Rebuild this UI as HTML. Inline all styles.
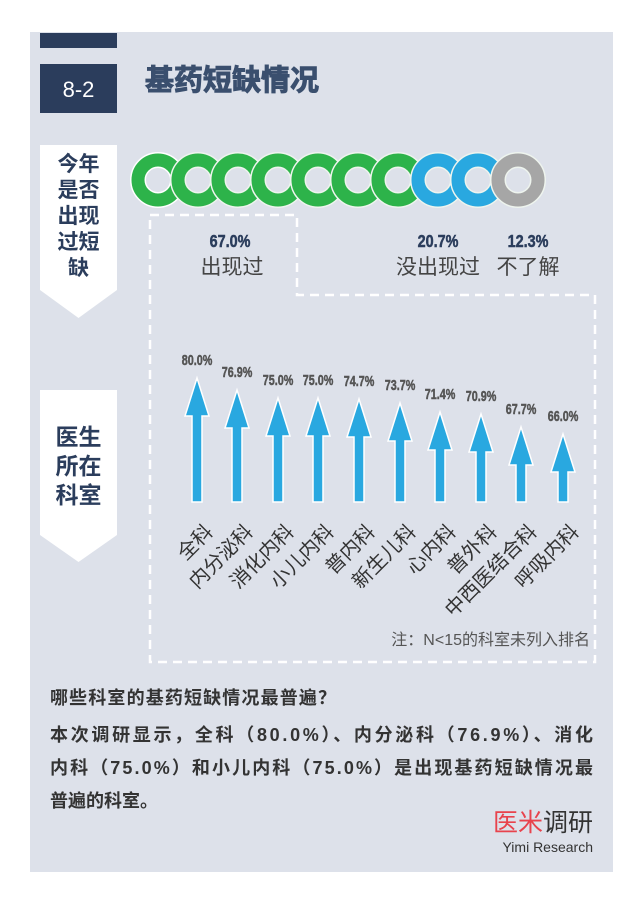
<!DOCTYPE html>
<html><head><meta charset="utf-8"><style>
body{margin:0;background:#fff;}
svg{display:block;}
text{font-family:"Liberation Sans","Noto Sans CJK SC",sans-serif;}
</style></head><body>
<svg width="640" height="905" viewBox="0 0 640 905" xmlns="http://www.w3.org/2000/svg">
<rect x="0" y="0" width="640" height="905" fill="#fff"/>
<rect x="30" y="32" width="583" height="840" fill="#dde1ea"/>
<rect x="40" y="33" width="77" height="15" fill="#2b3d5c"/>
<rect x="40" y="64" width="77" height="49" fill="#2b3d5c"/>
<text x="78.5" y="97" font-size="22" fill="#fff" text-anchor="middle">8-2</text>
<text x="145" y="90" font-size="29" font-weight="bold" fill="#3a4f6e" stroke="#3a4f6e" stroke-width="1">基药短缺情况</text>

<path d="M40 145 H117 V290 L78.5 318 L40 290 Z" fill="#fff"/>
<g font-size="21" font-weight="bold" fill="#2b3d5c" text-anchor="middle">
<text x="78.5" y="171">今年</text><text x="78.5" y="197">是否</text><text x="78.5" y="223">出现</text><text x="78.5" y="249">过短</text><text x="78.5" y="275">缺</text>
</g>
<path d="M40 390 H117 V535 L78.5 562 L40 535 Z" fill="#fff"/>
<g font-size="23" font-weight="bold" fill="#2b3d5c" text-anchor="middle">
<text x="78.5" y="445">医生</text><text x="78.5" y="474">所在</text><text x="78.5" y="503">科室</text>
</g>

<g fill="none">
<g stroke="#fff" stroke-width="16"><circle cx="158" cy="180" r="20"/></g><circle cx="158" cy="180" r="20" stroke="#2db34a" stroke-width="13"/>
<circle cx="198" cy="180" r="20" stroke="#eef4ee" stroke-width="16"/><circle cx="198" cy="180" r="20" stroke="#2db34a" stroke-width="13"/>
<circle cx="238" cy="180" r="20" stroke="#eef4ee" stroke-width="16"/><circle cx="238" cy="180" r="20" stroke="#2db34a" stroke-width="13"/>
<circle cx="278" cy="180" r="20" stroke="#eef4ee" stroke-width="16"/><circle cx="278" cy="180" r="20" stroke="#2db34a" stroke-width="13"/>
<circle cx="318" cy="180" r="20" stroke="#eef4ee" stroke-width="16"/><circle cx="318" cy="180" r="20" stroke="#2db34a" stroke-width="13"/>
<circle cx="358" cy="180" r="20" stroke="#eef4ee" stroke-width="16"/><circle cx="358" cy="180" r="20" stroke="#2db34a" stroke-width="13"/>
<circle cx="398" cy="180" r="20" stroke="#eef4ee" stroke-width="16"/><circle cx="398" cy="180" r="20" stroke="#2db34a" stroke-width="13"/>
<circle cx="438" cy="180" r="20" stroke="#eef4ee" stroke-width="16"/><circle cx="438" cy="180" r="20" stroke="#29a8e0" stroke-width="13"/>
<circle cx="478" cy="180" r="20" stroke="#eef4ee" stroke-width="16"/><circle cx="478" cy="180" r="20" stroke="#29a8e0" stroke-width="13"/>
<circle cx="518" cy="180" r="20" stroke="#eef4ee" stroke-width="16"/><circle cx="518" cy="180" r="20" stroke="#a6a6a6" stroke-width="13"/>
</g>

<path d="M150 215 H297 V295 H595 V662 H150 Z" fill="none" stroke="#fff" stroke-width="2.5" stroke-dasharray="9 6"/>

<g text-anchor="middle">
<text transform="translate(230 247) scale(0.8 1)" font-size="18" font-weight="bold" fill="#2b3d5c" stroke="#2b3d5c" stroke-width="0.5">67.0%</text>
<text x="232" y="274" font-size="21" fill="#444">出现过</text>
<text transform="translate(438 247) scale(0.8 1)" font-size="18" font-weight="bold" fill="#2b3d5c" stroke="#2b3d5c" stroke-width="0.5">20.7%</text>
<text x="438" y="274" font-size="21" fill="#444">没出现过</text>
<text transform="translate(528 247) scale(0.8 1)" font-size="18" font-weight="bold" fill="#2b3d5c" stroke="#2b3d5c" stroke-width="0.5">12.3%</text>
<text x="528" y="274" font-size="21" fill="#444">不了解</text>
</g>

<g fill="#29a8e0" stroke="#fff" stroke-width="1.5">
<path d="M192 502 V416 H185 L197 378 L209 416 H202 V502 Z"/>
<path d="M232 502 V428 H225 L237 390 L249 428 H242 V502 Z"/>
<path d="M273 502 V436 H266 L278 398 L290 436 H283 V502 Z"/>
<path d="M313 502 V436 H306 L318 398 L330 436 H323 V502 Z"/>
<path d="M354 502 V437 H347 L359 399 L371 437 H364 V502 Z"/>
<path d="M395 502 V441 H388 L400 403 L412 441 H405 V502 Z"/>
<path d="M435 502 V450 H428 L440 412 L452 450 H445 V502 Z"/>
<path d="M476 502 V452 H469 L481 414 L493 452 H486 V502 Z"/>
<path d="M516 502 V465 H509 L521 427 L533 465 H526 V502 Z"/>
<path d="M558 502 V472 H551 L563 434 L575 472 H568 V502 Z"/>
</g>
<g font-size="15" font-weight="bold" fill="#555" stroke="#555" stroke-width="0.5" text-anchor="middle">
<text transform="translate(197 365) scale(0.72 1)">80.0%</text>
<text transform="translate(237 377) scale(0.72 1)">76.9%</text>
<text transform="translate(278 385) scale(0.72 1)">75.0%</text>
<text transform="translate(318 385) scale(0.72 1)">75.0%</text>
<text transform="translate(359 386) scale(0.72 1)">74.7%</text>
<text transform="translate(400 390) scale(0.72 1)">73.7%</text>
<text transform="translate(440 399) scale(0.72 1)">71.4%</text>
<text transform="translate(481 401) scale(0.72 1)">70.9%</text>
<text transform="translate(521 414) scale(0.72 1)">67.7%</text>
<text transform="translate(563 421) scale(0.72 1)">66.0%</text>
</g>
<g font-size="20" fill="#333" text-anchor="end">
<text transform="translate(214 533) rotate(-45)">全科</text>
<text transform="translate(254 533) rotate(-45)">内分泌科</text>
<text transform="translate(295 533) rotate(-45)">消化内科</text>
<text transform="translate(335 533) rotate(-45)">小儿内科</text>
<text transform="translate(376 533) rotate(-45)">普内科</text>
<text transform="translate(417 533) rotate(-45)">新生儿科</text>
<text transform="translate(457 533) rotate(-45)">心内科</text>
<text transform="translate(498 533) rotate(-45)">普外科</text>
<text transform="translate(538 533) rotate(-45)">中西医结合科</text>
<text transform="translate(580 533) rotate(-45)">呼吸内科</text>
</g>
<text x="590" y="645" font-size="16" fill="#555" text-anchor="end">注：N&lt;15的科室未列入排名</text>

<text x="50" y="704" font-size="18" font-weight="bold" fill="#333" textLength="286">哪些科室的基药短缺情况最普遍？</text>
<g font-size="18" font-weight="bold" fill="#333">
<text x="50" y="741" textLength="543">本次调研显示，全科（80.0%）、内分泌科（76.9%）、消化</text>
<text x="50" y="774" textLength="543">内科（75.0%）和小儿内科（75.0%）是出现基药短缺情况最</text>
<text x="50" y="807">普遍的科室。</text>
</g>
<text x="593" y="831" font-size="25" text-anchor="end"><tspan fill="#e8434d">医米</tspan><tspan fill="#333">调研</tspan></text>
<text x="593" y="852" font-size="14" fill="#333" text-anchor="end">Yimi  Research</text>
</svg>
</body></html>
